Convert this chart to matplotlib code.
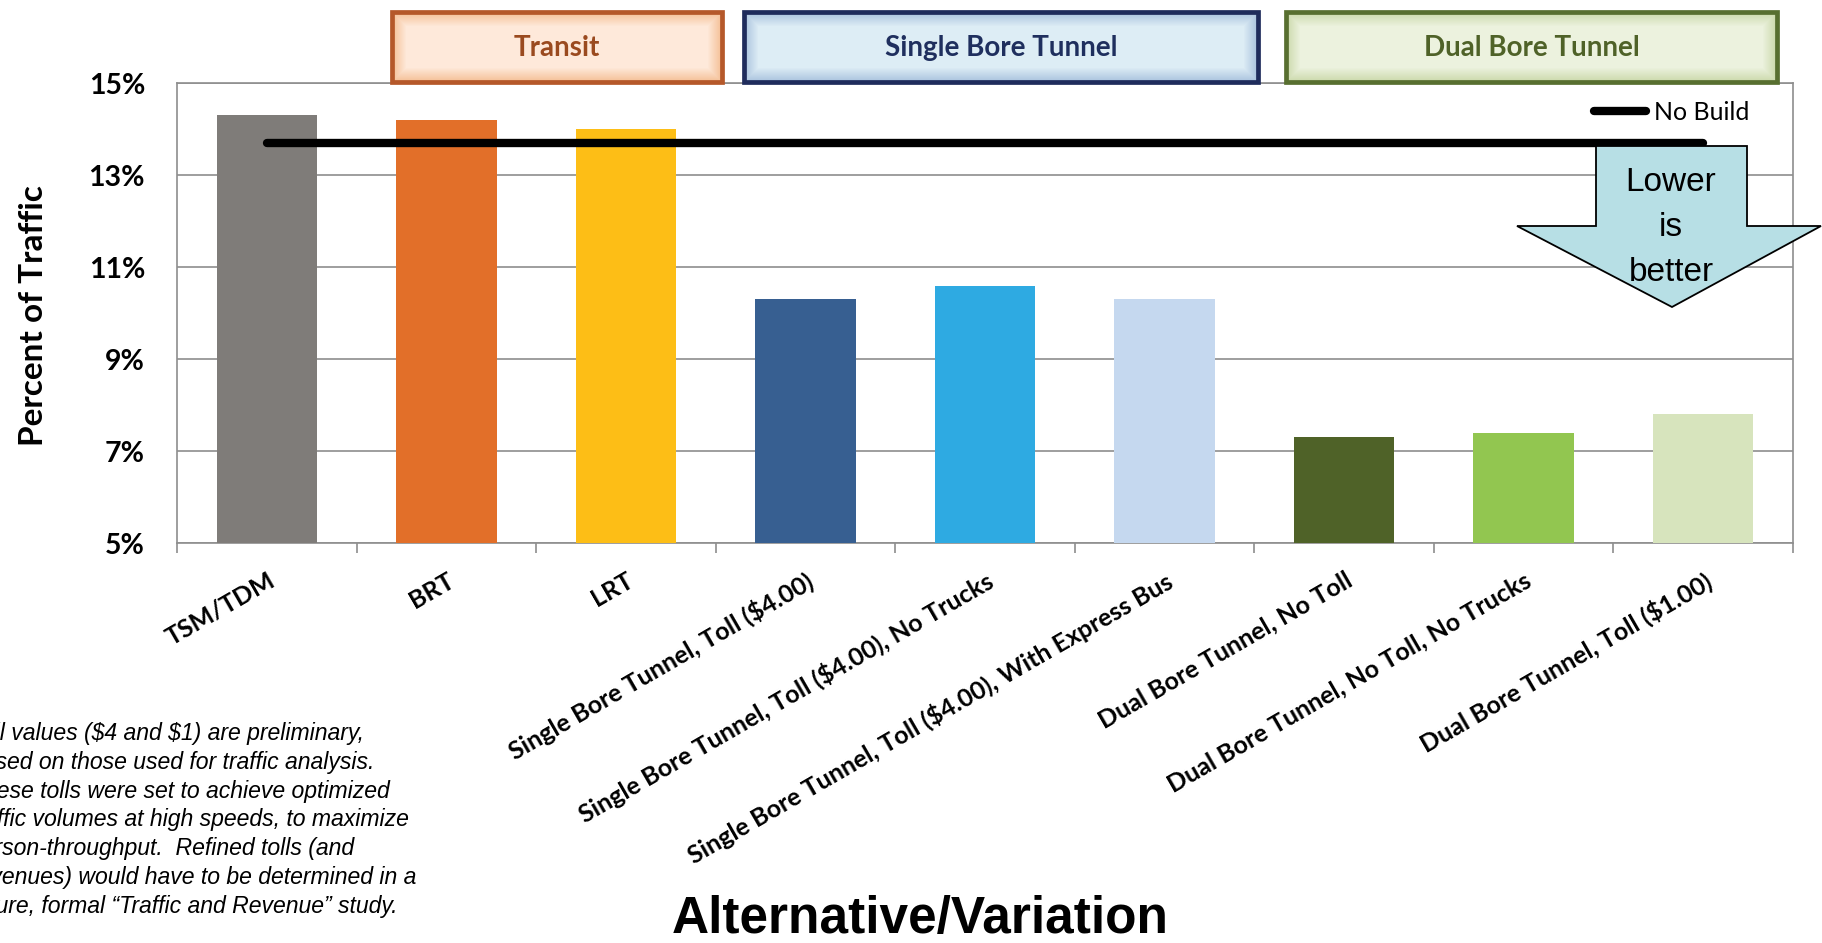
import numpy as np
import matplotlib
matplotlib.use("Agg")
import matplotlib.pyplot as plt
from matplotlib.patches import Rectangle, Polygon
from matplotlib.lines import Line2D

# ---- data -----------------------------------------------------------------
categories = [
    "TSM/TDM",
    "BRT",
    "LRT",
    "Single Bore Tunnel, Toll ($4.00)",
    "Single Bore Tunnel, Toll ($4.00), No Trucks",
    "Single Bore Tunnel, Toll ($4.00), With Express Bus",
    "Dual Bore Tunnel, No Toll",
    "Dual Bore Tunnel, No Toll, No Trucks",
    "Dual Bore Tunnel, Toll ($1.00)",
]
percent_traffic = [14.3, 14.2, 14.0, 10.3, 10.6, 10.3, 7.3, 7.4, 7.8]
no_build = 13.7
bar_colors = ["#7f7c79", "#e26f29", "#fdbe16",
              "#375f91", "#2eaae2", "#c5d8ef",
              "#4f6228", "#92c650", "#d7e4bd"]
y_ticks = [5, 7, 9, 11, 13, 15]
groups = ["Transit", "Single Bore Tunnel", "Dual Bore Tunnel"]
note_lines = [
    "Toll values ($4 and $1) are preliminary,",
    "based on those used for traffic analysis.",
    "These tolls were set to achieve optimized",
    "traffic volumes at high speeds, to maximize",
    "person-throughput.  Refined tolls (and",
    "revenues) would have to be determined in a",
    "future, formal \u201cTraffic and Revenue\u201d study.",
]

# ---- figure ---------------------------------------------------------------
W, H = 1822, 943
fig = plt.figure(figsize=(W / 100, H / 100), dpi=100)
fig.patch.set_facecolor("white")

LAB = "Lato"
ARIAL = "Liberation Sans"
GRID = "#8e8e8e"

ax_l, ax_r, ax_t, ax_b = 177, 1793, 83, 543.3
ax = fig.add_axes([ax_l / W, 1 - ax_b / H, (ax_r - ax_l) / W, (ax_b - ax_t) / H])

x = np.arange(len(categories))
ax.bar(x, percent_traffic, width=0.56, color=bar_colors, zorder=3)
ax.plot(x, [no_build] * len(x), color="black", lw=6, solid_capstyle="round",
        zorder=4)

ax.set_xlim(-0.5, len(categories) - 0.5)
ax.set_ylim(5, 15)
ax.set_yticks(y_ticks)
ax.set_yticklabels([f"{v}%" for v in y_ticks], fontfamily=LAB,
                   fontweight="bold", fontsize=20.5)
ax.tick_params(axis="y", length=0, pad=23)
ax.yaxis.grid(True, color=GRID, lw=1.2, zorder=0)
ax.set_axisbelow(True)

ax.set_xticks(x)
ax.set_xticklabels(categories, rotation=30, ha="right", va="top",
                   rotation_mode="anchor", fontfamily=LAB,
                   fontweight="bold", fontsize=18)
ax.tick_params(axis="x", which="major", length=0, pad=18)
ax.set_xticks(np.arange(-0.5, len(categories)), minor=True)
ax.tick_params(axis="x", which="minor", length=7, width=1.2, color=GRID,
               direction="out")

for s in ax.spines.values():
    s.set_color(GRID)
    s.set_linewidth(1.2)

leg = ax.legend([Line2D([0], [0], color="black", lw=6,
                        solid_capstyle="round")], ["No Build"],
                loc="upper right", bbox_to_anchor=(1 - 26 / (ax_r - ax_l), 1.0),
                frameon=False, handlelength=2.1, handletextpad=0.32,
                prop={"family": LAB, "size": 18}, borderaxespad=0.3)
leg.set_zorder(5)

# ---- overlay in pixel coordinates for annotations ------------------------
ov = fig.add_axes([0, 0, 1, 1], zorder=10)
ov.set_xlim(0, W)
ov.set_ylim(H, 0)
ov.axis("off")

# y-axis title
ov.text(43, 315.5, "Percent of Traffic", rotation=90, rotation_mode="anchor",
        ha="center", va="baseline", fontfamily=LAB, fontweight="bold",
        fontsize=24, color="black")


def glow_box(x0, x1, y0, y1, center, edge, border, label, tcolor):
    w, h = int(x1 - x0), int(y1 - y0)
    yy, xx = np.mgrid[0:h, 0:w]
    d = np.minimum.reduce([xx, w - 1 - xx, yy, h - 1 - yy]).astype(float)
    t = np.clip(d / 14.0, 0, 1)[..., None]
    c0 = np.array(matplotlib.colors.to_rgb(edge))
    c1 = np.array(matplotlib.colors.to_rgb(center))
    img = c0 + (c1 - c0) * t
    ov.imshow(img, extent=(x0, x1, y1, y0), zorder=1, interpolation="bilinear",
              aspect="auto")
    ov.add_patch(Rectangle((x0, y0), x1 - x0, y1 - y0, fill=False,
                           edgecolor=border, lw=3.4, zorder=2))
    ov.text((x0 + x1) / 2, (y0 + y1) / 2 + 1, label, ha="center", va="center",
            fontfamily=LAB, fontweight="bold", fontsize=20, color=tcolor,
            zorder=3)


glow_box(392, 722, 12, 82, "#fee9da", "#f5bf96", "#b5582a", groups[0], "#9a4a1f")
glow_box(744, 1258, 12, 82, "#ddedf5", "#a9c2de", "#1f2c5c", groups[1], "#1f2f5e")
glow_box(1286, 1777, 12, 82, "#ecf2de", "#cbd9ab", "#586f30", groups[2], "#4f6228")

# "Lower is better" arrow
arrow = Polygon([(1596, 146), (1747, 146), (1747, 226), (1821, 226),
                 (1672, 307), (1517, 226), (1596, 226)], closed=True,
                facecolor="#b7dfe5", edgecolor="black", lw=1.3, zorder=5)
ov.add_patch(arrow)
for txt, yb in [("Lower", 191), ("is", 236), ("better", 281)]:
    ov.text(1671, yb, txt, ha="center", va="baseline", fontfamily=ARIAL,
            fontsize=24, color="black", zorder=6)

# note on tolls
for i, line in enumerate(note_lines):
    ov.text(-30, 740 + i * 28.8, line, ha="left", va="baseline",
            fontfamily=ARIAL, fontstyle="italic", fontsize=16.6,
            color="black", parse_math=False)

# x-axis title
ov.text(672, 933, "Alternative/Variation", ha="left", va="baseline",
        fontfamily=ARIAL, fontweight="bold", fontsize=37, color="black")

fig.savefig("out.png", dpi=100, facecolor="white")
